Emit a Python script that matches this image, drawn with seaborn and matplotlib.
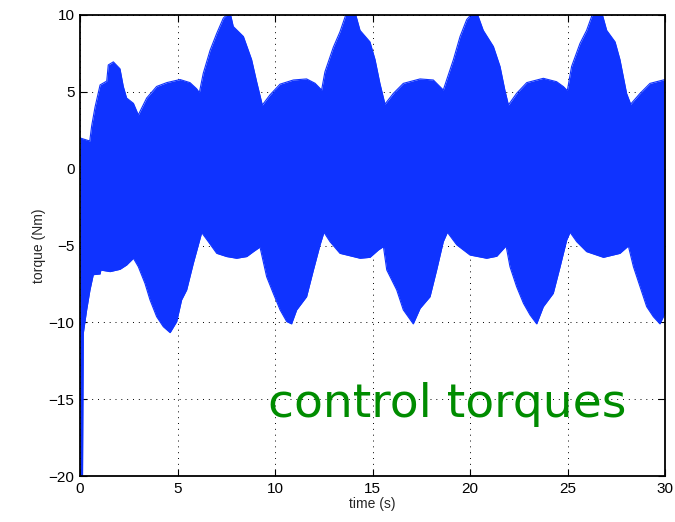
import matplotlib
matplotlib.use("Agg")
import matplotlib.pyplot as plt
import seaborn as sns
import pandas as pd

# upper envelope of the torque signal
t_up = [0, 0.5, 0.6, 0.77, 1.03, 1.37, 1.45, 1.71, 2.05, 2.22, 2.39, 2.74, 2.99,
        3.42, 3.93, 4.45, 5.13, 5.64, 5.98, 6.12, 6.32, 6.67, 7.01, 7.35, 7.69,
        7.86, 8.38, 8.80, 9.06, 9.35, 9.74, 10.26, 10.94, 11.62, 12.05, 12.39,
        12.56, 12.99, 13.33, 13.68, 14.1, 14.36, 14.87, 15.13, 15.38, 15.64,
        16.07, 16.58, 17.44, 18.12, 18.63, 18.80, 19.15, 19.49, 19.83, 20.17,
        20.34, 20.68, 21.2, 21.54, 21.79, 21.97, 22.39, 22.91, 23.76, 24.44,
        24.79, 24.99, 25.21, 25.64, 25.98, 26.32, 26.75, 27.01, 27.44, 27.69,
        28.03, 28.24, 28.72, 29.23, 30]
upper = [2.0, 1.8, 2.8, 4.0, 5.45, 5.7, 6.75, 6.95, 6.5, 5.35, 4.6, 4.25, 3.5,
         4.6, 5.35, 5.6, 5.8, 5.6, 5.2, 4.95, 6.2, 7.7, 8.8, 9.8, 10.2,
         9.25, 8.6, 7.1, 5.65, 4.14, 4.8, 5.5, 5.77, 5.84, 5.56, 5.12,
         6.3, 7.9, 8.9, 10.2, 10.2, 9.0, 8.25, 7.1, 5.55, 4.2,
         4.9, 5.55, 5.84, 5.77, 5.12, 5.77, 7.1, 8.6, 9.7, 10.2,
         10.2, 9.0, 7.95, 6.65, 5.1, 4.15, 4.9, 5.6, 5.88, 5.66,
         5.34, 5.08, 6.65, 8.15, 9.0, 10.2, 10.2, 9.0, 8.25, 7.1,
         4.9, 4.2, 4.9, 5.55, 5.8]

# lower envelope
t_lo = [0, 0.13, 0.17, 0.34, 0.51, 0.68, 1.03, 1.07, 1.54, 2.05, 2.39, 2.74,
        2.99, 3.33, 3.59, 3.93, 4.27, 4.62, 4.96, 5.21, 5.47, 5.81, 6.24, 6.58,
        7.01, 7.52, 8.03, 8.55, 8.89, 9.23, 9.57, 9.91, 10.26, 10.6, 10.85,
        11.11, 11.62, 11.97, 12.31, 12.51, 12.82, 13.33, 14.36, 14.87, 15.30,
        15.56, 15.73, 16.24, 16.58, 17.09, 17.44, 17.95, 18.29, 18.63, 18.84,
        19.32, 20.0, 20.85, 21.37, 21.85, 22.05, 22.39, 22.74, 23.08, 23.42,
        23.76, 24.27, 24.62, 24.96, 25.13, 25.47, 25.98, 26.84, 27.69, 28.12,
        28.38, 28.72, 29.06, 29.4, 29.74, 30]
lower = [-20, -20, -10.7, -9.2, -7.9, -6.9, -6.85, -6.6, -6.7, -6.55, -6.27, -5.83,
         -6.38, -7.46, -8.54, -9.63, -10.28, -10.67, -9.95, -8.54, -7.89, -6.16, -4.16, -4.75,
         -5.51, -5.72, -5.83, -5.72, -5.4, -5.1, -7.03, -8.11, -9.19, -9.95, -10.1,
         -9.19, -8.33, -6.59, -4.96, -4.14, -4.75, -5.51, -5.83, -5.77, -5.29,
         -5.07, -6.59, -7.89, -9.19, -10.1, -9.09, -8.33, -6.59, -4.75, -4.14,
         -4.96, -5.62, -5.83, -5.7, -5.03, -6.38, -7.68, -8.76, -9.52, -10.1,
         -8.98, -8.11, -6.38, -4.64, -4.14, -4.75, -5.4, -5.77, -5.51, -5.03,
         -6.38, -7.68, -8.98, -9.63, -10.1, -9.41]

x_ticks = [0, 5, 10, 15, 20, 25, 30]
y_ticks = [-20, -15, -10, -5, 0, 5, 10]

blue = "#0f33ff"

sns.set_style("ticks")
plt.rcParams['font.family'] = ['Liberation Sans', 'DejaVu Sans']

fig = plt.figure(figsize=(6.75, 5.22), dpi=100)
ax = fig.add_axes([80 / 675, 1 - 476 / 522, 585 / 675, 461 / 522])

# merge both envelopes on a common time grid for the fill
up = pd.DataFrame({"t": t_up, "v": upper})
lo = pd.DataFrame({"t": t_lo, "v": lower})
grid = sorted(set(t_up) | set(t_lo))
up_i = up.set_index("t")["v"].reindex(grid).interpolate(method="index")
lo_i = lo.set_index("t")["v"].reindex(grid).interpolate(method="index")
ax.fill_between(grid, lo_i.values, up_i.values, color=blue, lw=0, zorder=2)
sns.lineplot(data=up, x="t", y="v", ax=ax, color=blue, lw=0.8, zorder=2)
sns.lineplot(data=lo, x="t", y="v", ax=ax, color=blue, lw=0.8, zorder=2)

ax.set_xlim(0, 30)
ax.set_ylim(-20, 10)
ax.set_xticks(x_ticks)
ax.set_yticks(y_ticks)
ax.set_xticklabels([str(v) for v in x_ticks])
ax.set_yticklabels(["\u2212" + str(-v) if v < 0 else str(v) for v in y_ticks])
ax.set_axisbelow(True)
ax.grid(True, color="black", linestyle=(0, (1, 5)), linewidth=0.7)
for side in ax.spines.values():
    side.set_visible(True)
    side.set_color("black")
    side.set_linewidth(1.3)
    side.set_zorder(5)
ax.tick_params(direction="in", length=5, width=0.8, top=True, right=True,
               labelsize=11, colors="black", pad=4)
ax.set_xlabel("time (s)", fontsize=10, labelpad=1)
ax.set_ylabel("torque (Nm)", fontsize=10, labelpad=2)

ax.text(9.65, -16.15, "control torques", color="#008c00", fontsize=34,
        family=["DejaVu Sans"], ha="left", va="baseline", zorder=6)

fig.savefig("out.png", dpi=100)
